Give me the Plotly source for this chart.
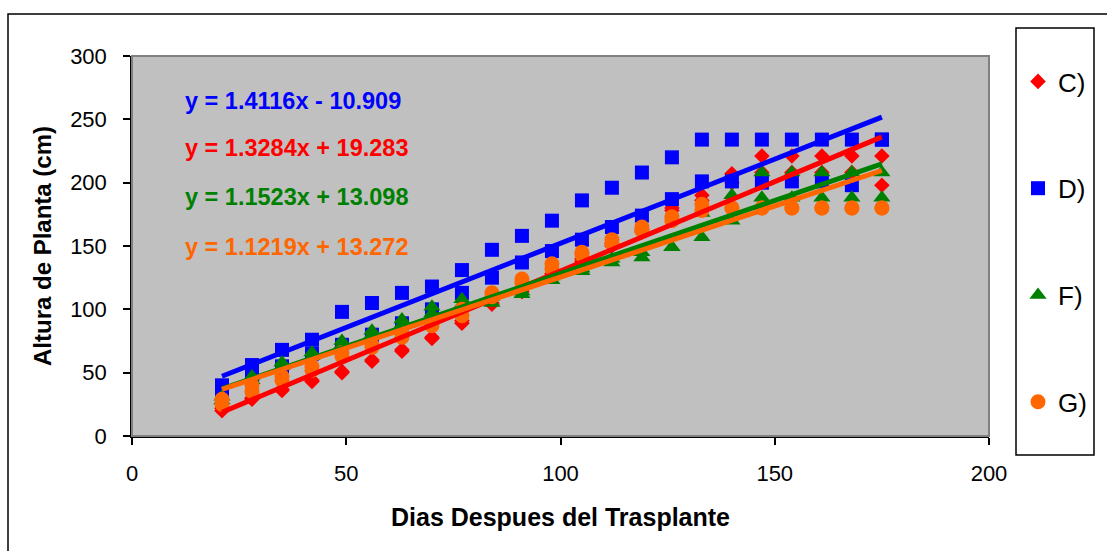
import plotly.graph_objects as go

# ---------------- data ----------------
days = [21, 28, 35, 42, 49, 56, 63, 70, 77, 84, 91, 98, 105, 112, 119, 126,
        133, 140, 147, 154, 161, 168, 175]

C_1 = [22, 30, 36, 43, 51, 60, 68, 77, 91, 105, 116, 128, 140, 152, 163, 180,
       190, 207, 221, 221, 221, 221, 221]
C_2 = [20, 29, 37, 44, 50, 59, 67, 78, 89, 104, 114, 126, 138, 150, 161, 178,
       186, 200, 208, 208, 208, 208, 198]
D_1 = [40, 56, 68, 76, 98, 105, 113, 118, 131, 147, 158, 170, 186, 196, 208, 220,
       234, 234, 234, 234, 234, 234, 234]
D_2 = [33, 47, 55, 65, 72, 80, 89, 100, 113, 125, 137, 146, 155, 165, 174, 187,
       201, 201, 200, 201, 201, 198, 234]
F_1 = [31, 47, 58, 66, 75, 83, 92, 102, 108, 110, 114, 126, 132, 140, 145, 149,
       176, 190, 208, 208, 208, 208, 208]
F_2 = [28, 44, 55, 63, 72, 80, 88, 97, 104, 105, 112, 123, 130, 137, 141, 149,
       157, 170, 188, 188, 188, 188, 188]
G_1 = [29, 40, 47, 55, 66, 72, 81, 89, 100, 113, 124, 136, 145, 155, 165, 173,
       183, 180, 180, 180, 180, 180, 180]
G_2 = [25, 35, 44, 52, 63, 70, 78, 87, 95, 110, 121, 132, 143, 152, 162, 170,
       178, 180, 180, 180, 180, 180, 180]

series_names = ["C)", "D)", "F)", "G)"]
series_reps = [(C_1, C_2), (D_1, D_2), (F_1, F_2), (G_1, G_2)]

# linear trendline coefficients (slope, intercept) per series
trend_slope = [1.4116, 1.3284, 1.1523, 1.1219]
trend_intercept = [-10.909, 19.283, 13.098, 13.272]

# equation label colours as shown on the chart (top to bottom)
label_colors = ["#0000FF", "#FF0000", "#008000", "#FF6600"]

x_tick_vals = [0, 50, 100, 150, 200]
y_tick_vals = [0, 50, 100, 150, 200, 250, 300]

# ---------------- styles ----------------
colors = ["#FF0000", "#0000FF", "#008000", "#FF6600"]
symbols = ["diamond", "square", "triangle-up", "circle"]
sizes = [12, 14, 15, 15]
FONT = "Liberation Sans, Arial, sans-serif"

fig = go.Figure()

for i, name in enumerate(series_names):
    for j, ys in enumerate(series_reps[i]):
        fig.add_trace(go.Scatter(
            x=days, y=ys, mode="markers", name=name,
            legendgroup=name, showlegend=(j == 0),
            marker=dict(symbol=symbols[i], color=colors[i], size=sizes[i],
                        line=dict(width=0)),
        ))

for i, name in enumerate(series_names):
    xs = [days[0], days[-1]]
    ys = [trend_slope[i] * v + trend_intercept[i] for v in xs]
    fig.add_trace(go.Scatter(
        x=xs, y=ys, mode="lines", legendgroup=name, showlegend=False,
        line=dict(color=colors[i], width=5), hoverinfo="skip",
    ))

# equation labels
eq_y = [264.5, 227.4, 188.7, 149.2]
for i in range(4):
    b = trend_intercept[i]
    sign = "-" if b < 0 else "+"
    txt = f"y = {trend_slope[i]:.4f}x {sign} {abs(b):.3f}"
    fig.add_annotation(
        x=12.0, y=eq_y[i], xref="x", yref="y", text=f"<b>{txt}</b>",
        showarrow=False, xanchor="left", yanchor="middle",
        font=dict(family=FONT, size=23.5, color=label_colors[i]),
    )

W, H = 1107, 551
L, R, T, B = 132, 118, 56, 115
pw, ph = W - L - R, H - T - B


def px_x(p):
    return (p - L) / pw


def px_y(p):
    return (H - B - p) / ph


shapes = [
    # chart area frame
    dict(type="rect", xref="paper", yref="paper", x0=px_x(8), x1=px_x(1200),
         y0=px_y(700), y1=px_y(14), line=dict(color="#000000", width=1.5),
         fillcolor="rgba(0,0,0,0)", layer="below"),
    # plot area border
    dict(type="rect", xref="paper", yref="paper", x0=0, x1=1, y0=0, y1=1,
         line=dict(color="#808080", width=2), fillcolor="rgba(0,0,0,0)"),
    # legend box
    dict(type="rect", xref="paper", yref="paper", x0=px_x(1016), x1=px_x(1094),
         y0=px_y(455), y1=px_y(28), line=dict(color="#000000", width=1.5),
         fillcolor="rgba(0,0,0,0)"),
]

fig.update_layout(
    width=W, height=H,
    margin=dict(l=L, r=R, t=T, b=B, autoexpand=False),
    paper_bgcolor="#FFFFFF", plot_bgcolor="#C0C0C0",
    font=dict(family=FONT, color="#000000"),
    shapes=shapes,
    legend=dict(
        x=px_x(1018), y=px_y(58), xanchor="left", yanchor="top",
        traceorder="grouped", tracegroupgap=70,
        font=dict(family=FONT, size=26, color="#000000"),
        bgcolor="rgba(0,0,0,0)", borderwidth=0,
    ),
    xaxis=dict(
        range=[0, 200], tickvals=x_tick_vals, showgrid=False, zeroline=False,
        showline=True, linecolor="#000000", linewidth=1.5,
        ticks="outside", ticklen=7, tickcolor="#000000", tickwidth=1.5,
        ticklabelstandoff=10,
        tickfont=dict(family=FONT, size=22, color="#000000"),
        title=dict(text="<b>Dias Despues del Trasplante</b>", standoff=23,
                   font=dict(family=FONT, size=25, color="#000000")),
    ),
    yaxis=dict(
        range=[0, 300], tickvals=y_tick_vals, showgrid=False, zeroline=False,
        showline=True, linecolor="#000000", linewidth=1.5,
        ticks="outside", ticklen=7, tickcolor="#000000", tickwidth=1.5,
        ticklabelstandoff=12,
        tickfont=dict(family=FONT, size=22, color="#000000"),
        title=dict(text="<b>Altura de Planta (cm)</b>", standoff=12,
                   font=dict(family=FONT, size=24, color="#000000")),
    ),
)

fig.write_html("out.html", config={"displayModeBar": False},
               post_script="document.body.style.margin='0';")
